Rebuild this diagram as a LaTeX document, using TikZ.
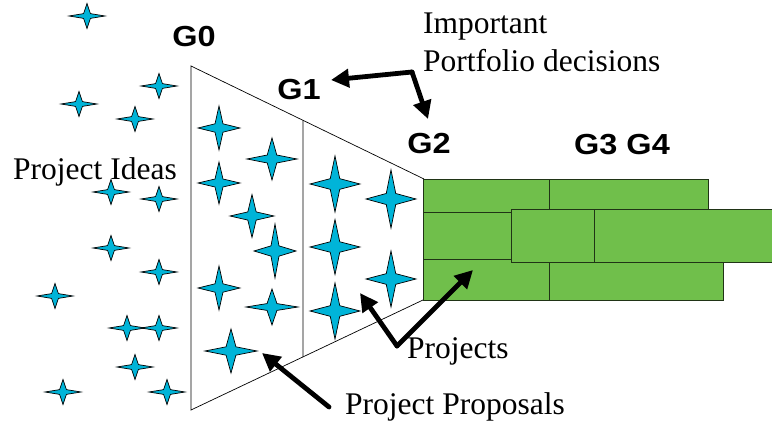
\documentclass[tikz,border=0pt]{standalone}
\usepackage{fontspec}
\setmainfont{Liberation Serif}
\newfontfamily\gatefont{Liberation Sans}
\usetikzlibrary{arrows.meta,calc}
\definecolor{starblue}{RGB}{0,180,216}
\definecolor{barfill}{RGB}{112,191,75}
\definecolor{baredge}{RGB}{32,52,22}

% four-pointed star: centre (x,y), half width, half height
\newcommand\sparkle[4]{%
  \draw[sparkstyle,shift={(#1,#2)},xscale=#3,yscale=#4]
    (1,0) -- (.19,.19) -- (0,1) -- (-.19,.19) -- (-1,0)
    -- (-.19,-.19) -- (0,-1) -- (.19,-.19) -- cycle;}
% wide bold gate label
\newcommand\gatetext[1]{\scalebox{1.12}[1]{#1}}

\begin{document}
\begin{tikzpicture}[x=1pt,y=-1pt,
  sparkstyle/.style={fill=starblue,draw=black,line width=0.7pt,line join=miter},
  lbl/.style={font=\fontsize{31.5}{38}\selectfont,inner sep=0pt,anchor=base west},
  gate/.style={font=\gatefont\bfseries\fontsize{29}{34}\selectfont,inner sep=0pt,anchor=base},
  pointer/.style={line width=4.8pt,line cap=round,-{Triangle[length=18pt,width=18pt]}},
  bar/.style={fill=barfill,draw=baredge,line width=0.9pt},
  rim/.style={line width=0.7pt}]
\useasboundingbox (0,0) rectangle (772,422);

% funnel outline
\coordinate (ftl) at (191,66);
\coordinate (fbl) at (191,410);
\coordinate (ftr) at (424,179);
\coordinate (fbr) at (423,300);
\draw[rim] (ftr) -- (ftl) -- (fbl) -- (fbr);
\coordinate (dtop) at ($(ftl)!0.4807!(ftr)$);
\coordinate (dbot) at ($(fbl)!0.4828!(fbr)$);
\draw[rim] (dtop) -- (dbot);

% project bars
\draw[bar] (423,179) rectangle (549,212);
\draw[bar] (549,179) rectangle (708,212);
\draw[bar] (423,259) rectangle (549,300);
\draw[bar] (549,262) rectangle (723,300);
\draw[bar] (423,212) rectangle (511,259);
\draw[bar] (511,209) rectangle (594,262);
\draw[bar] (594,209) rectangle (776,262);

% loose ideas
\sparkle{87}{16}{18}{12.5}
\sparkle{159}{86}{18}{12.5}
\sparkle{79}{104}{18}{12.5}
\sparkle{135}{119}{18}{12.5}
\sparkle{111}{192}{18}{12.5}
\sparkle{159}{199}{18}{12.5}
\sparkle{111}{248}{18}{12.5}
\sparkle{159}{272}{18}{12.5}
\sparkle{55}{296}{18}{12.5}
\sparkle{127}{328}{18}{12.5}
\sparkle{159}{328}{18}{12.5}
\sparkle{135}{367}{18}{12.5}
\sparkle{63}{392}{18}{12.5}
\sparkle{167}{392}{18}{12.5}

% proposals
\sparkle{219}{128}{21}{22}
\sparkle{272}{159}{25}{21}
\sparkle{219}{183}{21}{21}
\sparkle{252}{216}{22}{21.5}
\sparkle{275}{251}{21}{27}
\sparkle{219}{288}{21}{22}
\sparkle{272}{307}{26}{18}
\sparkle{231}{351}{26}{22}

% selected projects
\sparkle{335}{184}{25}{28}
\sparkle{391}{199}{25}{29}
\sparkle{335}{247}{25}{27.5}
\sparkle{391}{279}{25}{28}
\sparkle{335}{311}{25}{28}

% labels
\node[lbl] (ideas) at (13,180) {Project Ideas};
\node[lbl] (imp) at (423,34) {Important};
\node[lbl] (port) at (423,72) {Portfolio decisions};
\node[lbl] (proj) at (407,359) {Projects};
\node[lbl] (props) at (345,414) {Project Proposals};
\node[gate] (g0) at (194,47) {\gatetext{G0}};
\node[gate] (g1) at (299,100) {\gatetext{G1}};
\node[gate] (g2) at (429,154) {\gatetext{G2}};
\node[gate] (g34) at (622,155) {\gatetext{G3 G4}};

% pointers
\coordinate (ipd) at (412,72);
\coordinate (g1tip) at (331,80);
\coordinate (g2tip) at (428,119);
\draw[pointer] (ipd) -- (g1tip);
\draw[pointer] (ipd) -- (g2tip);

\coordinate (pj) at (397,346);
\coordinate (pjstar) at (360,293);
\coordinate (pjbar) at (473,270);
\draw[pointer] (pj) -- (pjstar);
\draw[pointer] (pj) -- (pjbar);

\coordinate (pp) at (329,407);
\coordinate (ppstar) at (262,353);
\draw[pointer] (pp) -- (ppstar);
\end{tikzpicture}
\end{document}
